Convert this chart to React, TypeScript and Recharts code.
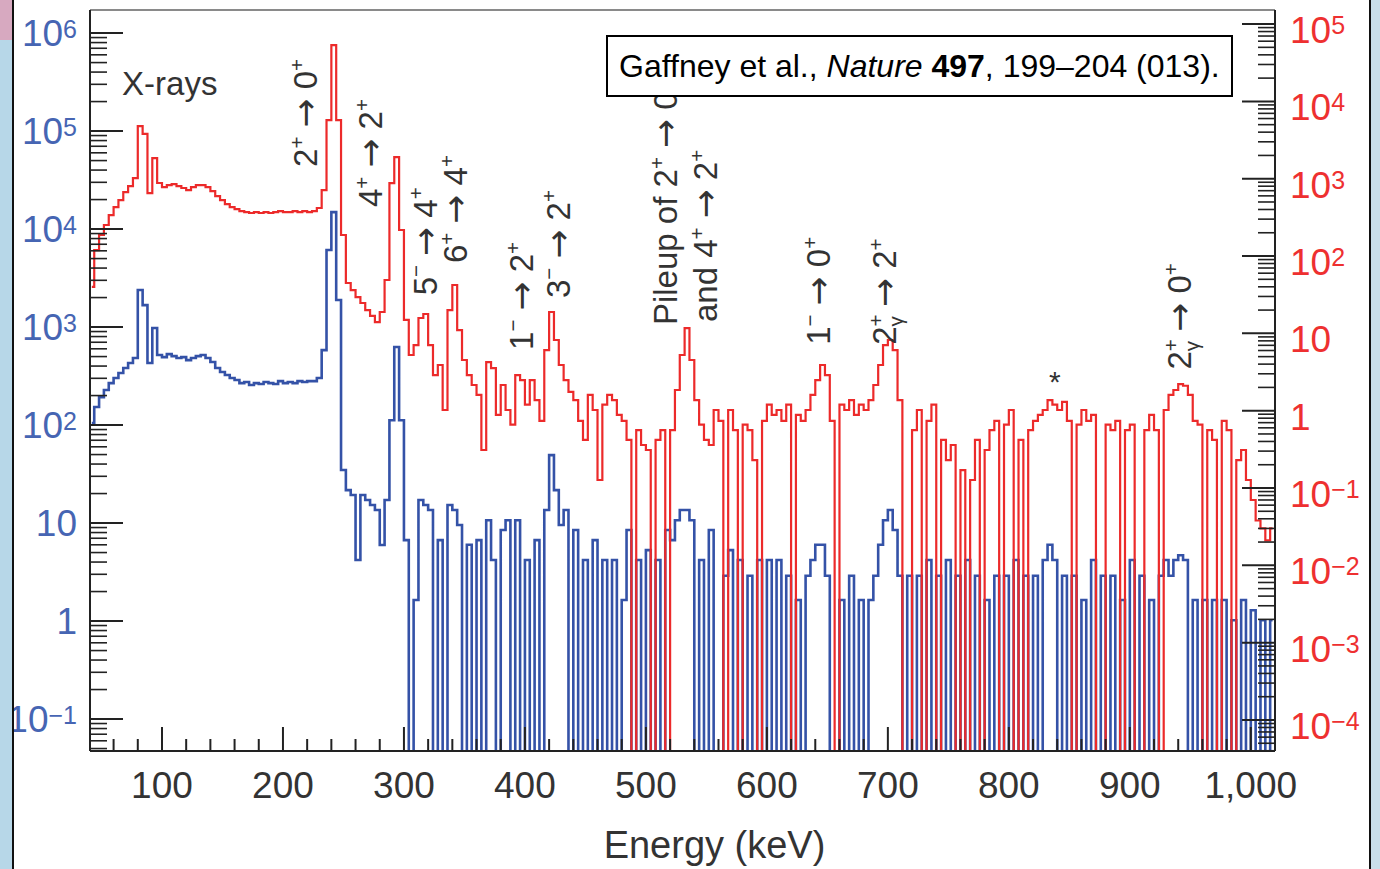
import React from "react";
import { LineChart, Line, XAxis, YAxis, ReferenceDot, ReferenceLine } from "recharts";

// histogram calibration: bin i is centred on firstBin + i * binWidth keV
const firstBin = 42;
const binWidth = 4;

// blue spectrum (left axis), counts per bin; 0 = empty bin
const blueCounts = [
  105, 153, 193, 228, 268, 302, 340, 382, 430, 483,
  2390, 1675, 430, 977, 518, 494, 530, 505, 483, 494,
  460, 483, 505, 518, 483, 440, 382, 348, 324, 302,
  288, 268, 275, 256, 268, 262, 275, 268, 262, 281,
  268, 275, 268, 281, 275, 281, 281, 302, 582, 6110,
  14900, 1890, 34.8, 21.7, 19.3, 4.2, 19.3, 17.2, 15.3, 13.6,
  5.97, 17.2, 112, 625, 112, 6.7, 0, 1.64, 17.2, 15.3,
  13.6, 0, 6.7, 0, 15.3, 13.6, 9.55, 0, 6, 0,
  6.7, 0, 10.7, 4.2, 0, 8.5, 10.7, 0, 10.7, 0,
  4.2, 0, 6.7, 0, 13.6, 49.4, 21.7, 9.55, 13.6, 0,
  8.5, 0, 4.2, 0, 6.7, 0, 4.2, 0, 4.2, 0,
  1.64, 8.5, 0, 4.2, 0, 5.3, 0, 4.2, 0, 8.5,
  6.7, 10.7, 13.6, 13.6, 10.7, 0, 4.2, 0, 8.5, 0,
  0, 2.9, 5.3, 0, 4.2, 0, 2.9, 0, 4.2, 0,
  4.2, 0, 4.2, 0, 2.9, 0, 1.64, 0, 2.9, 4.2,
  6, 6, 2.9, 0, 0, 1.64, 0, 2.9, 0, 1.64,
  0, 1.64, 2.9, 6, 10.7, 13.6, 8.5, 2.9, 0, 2.9,
  0, 2.9, 0, 4.2, 0, 2.9, 0, 4.2, 0, 2.9,
  0, 4.2, 0, 2.9, 0, 1.64, 0, 2.9, 0, 2.9,
  0, 4.2, 0, 2.9, 0, 2.9, 0, 4.2, 6, 4.2,
  0, 2.9, 0, 2.9, 0, 1.64, 0, 4.2, 0, 2.9,
  0, 2.9, 0, 1.64, 0, 4.2, 0, 2.9, 0, 1.64,
  0, 2.9, 4.2, 2.9, 4.2, 4.7, 4.2, 0, 1.64, 0,
  1.64, 0, 1.64, 0, 1.64, 0, 1.02, 0, 1.64, 0,
  1.29, 0, 1.02, 0, 1.02,
];

// red spectrum (right axis)
const redCounts = [
  40, 119, 187, 252, 339, 430, 529, 671, 803, 1020,
  4800, 3800, 652, 1850, 880, 780, 828, 853, 803, 758,
  713, 780, 828, 828, 780, 692, 597, 529, 470, 430,
  405, 382, 370, 360, 370, 360, 370, 360, 370, 382,
  370, 370, 382, 370, 382, 370, 382, 418, 713, 5740,
  53500, 5740, 187, 44.8, 36.3, 29.5, 24.7, 20, 16.8, 14,
  18.9, 49, 879, 1900, 217, 14.9, 5.25, 7.06, 15.8, 17.8,
  7.06, 2.89, 3.9, 1.02, 20, 42.2, 11, 4.52, 2.89, 2.15,
  1.6, 0.31, 4.25, 3.55, 0.88, 2.15, 1.02, 0.66, 2.89, 2.49,
  1.2, 2.49, 1.37, 0.74, 6.08, 18.9, 8.2, 3.9, 2.49, 1.75,
  1.37, 0.74, 0.42, 1.6, 1.02, 0.127, 1.2, 1.6, 1.37, 0.88,
  0.74, 0.42, 0, 0.56, 0.36, 0.31, 0, 0.42, 0.56, 0,
  0.56, 1.85, 5.25, 11.7, 4.52, 1.37, 0.66, 0.42, 0.36, 1.02,
  0.74, 0, 1.02, 0.56, 0, 0.66, 0.56, 0.23, 0, 0.74,
  1.2, 0.88, 1.02, 0.74, 1.2, 0, 0.88, 0.74, 1.02, 1.6,
  2.49, 3.9, 2.89, 0.74, 0, 1.2, 1.02, 1.37, 0.88, 1.2,
  1.02, 1.37, 2.15, 3.9, 7.06, 8.2, 6.08, 1.37, 0, 0,
  0.56, 1.02, 0, 0.74, 1.2, 0, 0.42, 0.23, 0.36, 0,
  0.17, 0, 0.127, 0.42, 0, 0.31, 0.56, 0.74, 0, 0.66,
  1.02, 0, 0.42, 0, 0.56, 0.74, 0.88, 1.02, 1.37, 1.2,
  1.02, 1.3, 0.74, 0, 0.66, 1.02, 0.74, 0.88, 0, 0,
  0.66, 0.56, 0.74, 0, 0.56, 0.66, 0, 0, 0.56, 0.88,
  0.56, 0, 1.02, 1.6, 1.85, 2.21, 2.1, 1.6, 0.74, 0.66,
  0, 0.56, 0.42, 0, 0.74, 0.56, 0, 0.23, 0.31, 0.127,
  0.07, 0.038, 0.03, 0.021, 0.03,
];

const energyTicks = [
  60, 80, 100, 120, 140, 160, 180, 200, 220, 240, 260, 280, 300, 320, 340, 360,
  380, 400, 420, 440, 460, 480, 500, 520, 540, 560, 580, 600, 620, 640, 660, 680,
  700, 720, 740, 760, 780, 800, 820, 840, 860, 880, 900, 920, 940, 960, 980, 1000,
];
const leftMajors = [0.1, 1, 10, 100, 1e3, 1e4, 1e5, 1e6];
const rightMajors = [1e-4, 1e-3, 1e-2, 0.1, 1, 10, 100, 1e3, 1e4, 1e5];

// peak annotations, anchored at (energy, level on the right axis)
const peakLabels = [
  { energy: 218, level: 1420, text: "2^+ → 0^+" },
  { energy: 272, level: 430, text: "4^+ → 2^+" },
  { energy: 317, level: 31, text: "5^− → 4^+" },
  { energy: 342, level: 81, text: "6^+ → 4^+" },
  { energy: 397, level: 6.1, text: "1^− → 2^+" },
  { energy: 427, level: 28.6, text: "3^− → 2^+" },
  { energy: 516, level: 12.8, text: "Pileup of 2^+ → 0^+" },
  { energy: 549, level: 14, text: "and 4^+ → 2^+" },
  { energy: 642, level: 7.1, text: "1^− → 0^+" },
  { energy: 697, level: 7.1, text: "2^+_γ → 2^+" },
  { energy: 941, level: 3.4, text: "2^+_γ → 0^+" },
];

const leftDomain = [0.0472, 1.72e6];
const rightDomain = [3.97e-5, 1.52e5];
const blueFloor = 1e-3; // empty bins drop off the bottom of the log axis
const redFloor = 1e-6;

const font = "'Liberation Sans', Arial, Helvetica, sans-serif";
const arrowFont = "'DejaVu Sans', sans-serif";
const axisInk = "#222";
const textInk = "#333";
const blueLine = "#3452a7";
const redLine = "#ec2a2a";
const blueText = "#4665b3";
const redText = "#ee3030";

const withMinors = (majors: number[], lo: number, hi: number) => {
  const out: number[] = [];
  majors.concat([majors[0] / 10]).forEach((m) => {
    [1, 2, 3, 4, 5, 6, 7, 8, 9].forEach((k) => {
      const v = m * k;
      if (v >= lo && v <= hi && !out.includes(v)) out.push(v);
    });
  });
  return out.sort((a, b) => a - b);
};
const leftTicks = withMinors(leftMajors, leftDomain[0], leftDomain[1]);
const rightTicks = withMinors(rightMajors, rightDomain[0], rightDomain[1]);

const rows = redCounts.map((r, i) => ({
  energy: firstBin + i * binWidth,
  red: Math.max(r, redFloor),
  blue: Math.max(blueCounts[i], blueFloor),
}));

const powerParts = (v: number) => {
  const n = Math.round(Math.log10(v));
  if (n === 0) return ["1", ""];
  if (n === 1) return ["10", ""];
  return ["10", n < 0 ? `−${-n}` : `${n}`];
};

const CountTick = (props: any) => {
  const { x, y, payload, side } = props;
  const v = payload.value;
  const majors = side === "left" ? leftMajors : rightMajors;
  const major = majors.some((m) => Math.abs(m - v) / m < 1e-9);
  const dir = side === "left" ? 1 : -1;
  const [base, exp] = powerParts(v);
  return (
    <g>
      <line x1={x} y1={y} x2={x + dir * (major ? 33 : 17)} y2={y} stroke={axisInk} strokeWidth={major ? 2 : 1.6} />
      {major && side === "left" && (
        <text x={x - 13} y={y + 13} textAnchor="end" fontSize={37} fill={blueText} fontFamily={font}>
          {base}
          {exp && <tspan dy={-8} fontSize={25}>{exp}</tspan>}
        </text>
      )}
      {major && side === "right" && (
        <text x={x + 15} y={y + 19} textAnchor="start" fontSize={37} fill={redText} fontFamily={font}>
          {base}
          {exp && <tspan dy={-9} fontSize={25}>{exp}</tspan>}
        </text>
      )}
    </g>
  );
};

const EnergyTick = (props: any) => {
  const { x, y, payload } = props;
  const v = payload.value;
  const major = v % 100 === 0;
  return (
    <g>
      <line x1={x} y1={y} x2={x} y2={y - (major ? 24 : 12)} stroke={axisInk} strokeWidth={2} />
      {major && (
        <text x={x} y={y + 47} textAnchor="middle" fontSize={37} fill={textInk} fontFamily={font}>
          {v === 1000 ? "1,000" : v}
        </text>
      )}
    </g>
  );
};

const EnergyTitle = (props: any) => {
  const vb = props.viewBox;
  return (
    <text x={vb.x + vb.width / 2 + 32} y={vb.y + 107} textAnchor="middle" fontSize={38} fill={textInk} fontFamily={font}>
      Energy (keV)
    </text>
  );
};

// "^x" raises one character, "_x" tucks one character under the previous superscript
const markup = (src: string, size: number) => {
  const parts: React.ReactNode[] = [];
  const small = size * 0.62;
  let level = 0;
  let buf = "";
  const push = (txt: string, target: number, fs: number, dx?: number, family?: string) => {
    parts.push(
      <tspan key={parts.length} dy={level - target} dx={dx} fontSize={fs} fontFamily={family}>
        {txt}
      </tspan>
    );
    level = target;
  };
  for (let i = 0; i < src.length; i++) {
    const c = src[i];
    if (c === "^" || c === "_") {
      if (buf) push(buf, 0, size);
      buf = "";
      const ch = src[++i];
      if (c === "^") push(ch, size * 0.4, small);
      else push(ch, -size * 0.22, small, -small * 0.58);
    } else if (c === "→") {
      if (buf) push(buf, 0, size);
      buf = "";
      push("→", 0, size * 1.05, undefined, arrowFont);
    } else buf += c;
  }
  if (buf) push(buf, 0, size);
  return parts;
};

const PeakLabel = (props: any) => {
  const { viewBox, text } = props;
  const x = viewBox.x + viewBox.width / 2;
  const y = viewBox.y + viewBox.height / 2;
  return (
    <text transform={`translate(${x + 12},${y}) rotate(-90)`} fontSize={33} fill={textInk} fontFamily={font}>
      {markup(text, 33)}
    </text>
  );
};

const PlainLabel = (props: any) => {
  const { viewBox, text, size, anchor } = props;
  return (
    <text x={viewBox.x + viewBox.width / 2} y={viewBox.y + viewBox.height / 2} textAnchor={anchor} fontSize={size} fill={textInk} fontFamily={font}>
      {text}
    </text>
  );
};

export default function App() {
  return (
    <div style={{ position: "absolute", left: 0, top: 0, width: 1380, height: 869, background: "#fff", overflow: "hidden", fontFamily: font }}>
      <LineChart width={1380} height={869} data={rows} margin={{ top: 10, right: 0, bottom: 0, left: 0 }} style={{ fontFamily: font }}>
        <XAxis
          dataKey="energy"
          type="number"
          domain={[40.5, 1020]}
          allowDataOverflow
          ticks={energyTicks}
          interval={0}
          tickSize={0}
          tickMargin={0}
          tickLine={false}
          tick={<EnergyTick />}
          height={118}
          axisLine={{ stroke: axisInk, strokeWidth: 2 }}
          label={<EnergyTitle />}
        />
        <YAxis
          yAxisId="left"
          scale="log"
          type="number"
          domain={leftDomain}
          allowDataOverflow
          ticks={leftTicks}
          interval={0}
          tickSize={0}
          tickMargin={0}
          tickLine={false}
          tick={(p: any) => <CountTick {...p} side="left" />}
          width={90}
          axisLine={{ stroke: axisInk, strokeWidth: 2 }}
        />
        <YAxis
          yAxisId="right"
          orientation="right"
          scale="log"
          type="number"
          domain={rightDomain}
          allowDataOverflow
          ticks={rightTicks}
          interval={0}
          tickSize={0}
          tickMargin={0}
          tickLine={false}
          tick={(p: any) => <CountTick {...p} side="right" />}
          width={105}
          axisLine={{ stroke: axisInk, strokeWidth: 2 }}
        />
        <ReferenceLine yAxisId="left" y={leftDomain[1]} stroke="#8a8a8a" strokeWidth={2} ifOverflow="visible" />
        <Line yAxisId="left" dataKey="blue" type="step" stroke={blueLine} strokeWidth={2.6} dot={false} activeDot={false} isAnimationActive={false} />
        <Line yAxisId="right" dataKey="red" type="step" stroke={redLine} strokeWidth={2.2} dot={false} activeDot={false} isAnimationActive={false} />
        {peakLabels.map((p) => (
          <ReferenceDot
            key={p.text}
            yAxisId="right"
            x={p.energy}
            y={p.level}
            r={0}
            fill="none"
            stroke="none"
            ifOverflow="visible"
            label={<PeakLabel text={p.text} />}
          />
        ))}
        <ReferenceDot yAxisId="left" x={67} y={2.33e5} r={0} fill="none" stroke="none" label={<PlainLabel text="X-rays" size={33} anchor="start" />} />
        <ReferenceDot yAxisId="right" x={838} y={1.74} r={0} fill="none" stroke="none" label={<PlainLabel text="*" size={30} anchor="middle" />} />
      </LineChart>

      <div
        style={{
          position: "absolute",
          left: 606,
          top: 35,
          width: 627,
          height: 62,
          boxSizing: "border-box",
          border: "2px solid #000",
          background: "#fff",
          color: "#000",
          fontSize: 32,
          lineHeight: "58px",
          paddingLeft: 11,
          whiteSpace: "nowrap",
        }}
      >
        Gaffney et al., <i>Nature</i> <b>497</b>, 199–204 (013).
      </div>

      <div style={{ position: "absolute", left: 0, top: 0, width: 12, height: 869, background: "#b7d7e8" }} />
      <div style={{ position: "absolute", left: 0, top: 0, width: 12, height: 40, background: "#d7a9c0" }} />
      <div style={{ position: "absolute", left: 12, top: 0, width: 2, height: 869, background: "#111" }} />
      <div style={{ position: "absolute", left: 1369, top: 0, width: 2, height: 869, background: "#111" }} />
      <div style={{ position: "absolute", left: 1371, top: 0, width: 9, height: 869, background: "#c9dfea" }} />
    </div>
  );
}
